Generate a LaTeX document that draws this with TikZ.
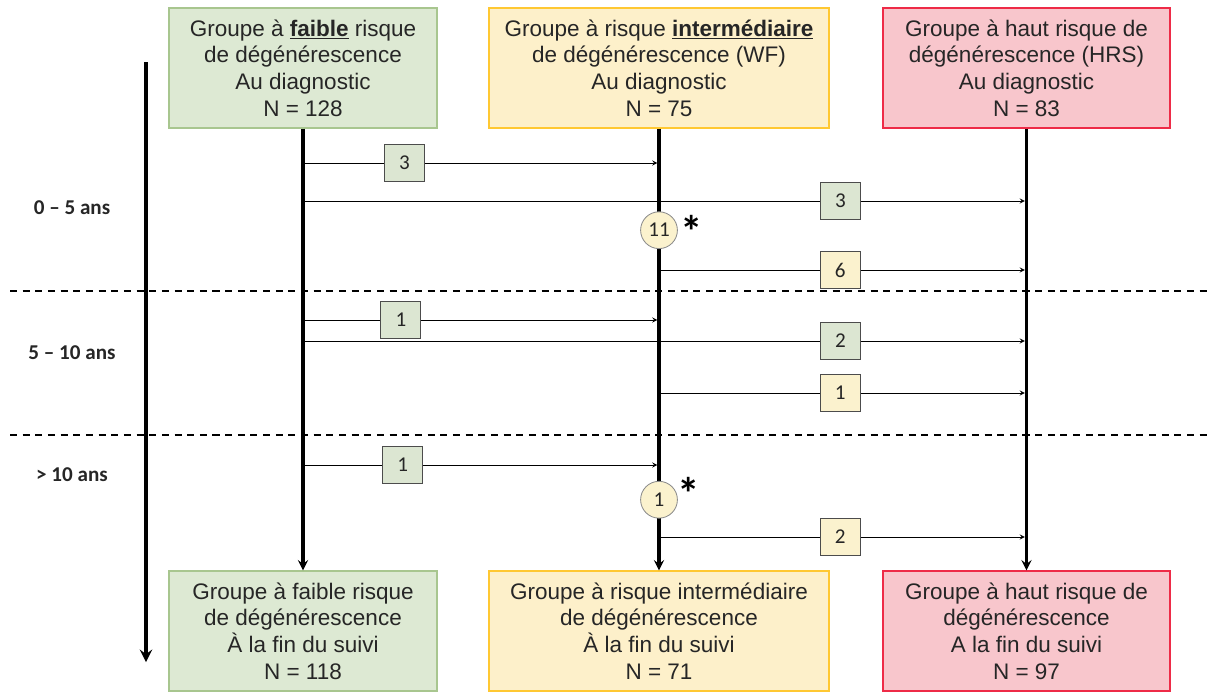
\documentclass[tikz,border=0pt]{standalone}
\usepackage{fontspec}
\setmainfont{Liberation Sans}
\newfontfamily\calibri{Carlito}
\definecolor{lowfill}{HTML}{DDE9D3}
\definecolor{lowline}{HTML}{A8C68F}
\definecolor{midfill}{HTML}{FDF0CA}
\definecolor{midline}{HTML}{FFC832}
\definecolor{highfill}{HTML}{F8C6CC}
\definecolor{highline}{HTML}{EE2B47}
\definecolor{lowcountfill}{HTML}{DCE6D2}
\definecolor{midcountfill}{HTML}{FBF2CE}
\begin{document}
\begin{tikzpicture}[
        x=0.025cm, y=-0.025cm,
        >=stealth,
        every node/.style={text=black!85},
        groupbox/.style={
            draw,
            line width=0.8pt,
            align=center,
            minimum height=3cm,
            inner sep=2pt,
            font=\fontsize{16}{19}\selectfont
        },
        lowbox/.style={groupbox, fill=lowfill, draw=lowline, minimum width=6.7cm},
        midbox/.style={groupbox, fill=midfill, draw=midline, minimum width=8.5cm},
        highbox/.style={groupbox, fill=highfill, draw=highline, minimum width=7.175cm},
        countbox/.style={
            draw=black!70,
            line width=0.6pt,
            minimum width=1cm,
            minimum height=0.92cm,
            inner sep=0pt,
            font=\calibri\fontsize{15}{15}\selectfont
        },
        lowcount/.style={countbox, fill=lowcountfill},
        midcount/.style={countbox, fill=midcountfill},
        switchmark/.style={circle, draw=black!45, line width=0.6pt, fill=midcountfill, minimum size=0.92cm,
            inner sep=0pt, font=\calibri\fontsize{15}{15}\selectfont},
        starmark/.style={inner sep=0pt, text=black, font=\calibri\bfseries\fontsize{32}{32}\selectfont},
        period/.style={font=\calibri\bfseries\fontsize{15}{15}\selectfont},
        vline/.style={->, line width=2.2pt},
        hline/.style={->, line width=0.6pt, shorten >=1.2pt},
        sepline/.style={dash pattern=on 5pt off 4pt, line width=1.3pt}
    ]
        \useasboundingbox (0,0) rectangle (1216,693);

        \node[lowbox] (lowTop) at (303,68) {Groupe à \underline{\textbf{faible}} risque\\de dégénérescence\\Au diagnostic\\N = 128};
        \node[midbox] (midTop) at (659,68) {Groupe à risque \underline{\textbf{intermédiaire}}\\de dégénérescence (WF)\\Au diagnostic\\N = 75};
        \node[highbox] (highTop) at (1026.5,68) {Groupe à haut risque de\\dégénérescence (HRS)\\Au diagnostic\\N = 83};

        \node[lowbox] (lowEnd) at (303,631) {Groupe à faible risque\\de dégénérescence\\À la fin du suivi\\N = 118};
        \node[midbox] (midEnd) at (659,631) {Groupe à risque intermédiaire\\de dégénérescence\\À la fin du suivi\\N = 71};
        \node[highbox] (highEnd) at (1026.5,631) {Groupe à haut risque de\\dégénérescence\\A la fin du suivi\\N = 97};

        \node[period] (p1) at (72,208) {0 – 5 ans};
        \node[period] (p2) at (72,353) {5 – 10 ans};
        \node[period] (p3) at (72,475) {> 10 ans};

        \coordinate (timeTop) at (146,62);
        \coordinate (timeEnd) at (146,662);
        \draw[->, line width=2.8pt] (timeTop) -- (timeEnd);

        \coordinate (sepAw) at (10,291);
        \coordinate (sepAe) at (1212,291);
        \coordinate (sepBw) at (10,435);
        \coordinate (sepBe) at (1212,435);
        \draw[sepline] (sepAw) -- (sepAe);
        \draw[sepline] (sepBw) -- (sepBe);

        \draw[hline] (lowTop.south |- 0,163) -- node[lowcount, pos=0.285] (n1) {3} (midTop.south |- 0,163);
        \draw[hline] (lowTop.south |- 0,201) -- node[lowcount, pos=0.743] (n2) {3} (highTop.south |- 0,201);
        \draw[hline] (midTop.south |- 0,270) -- node[midcount, pos=0.493] (n3) {6} (highTop.south |- 0,270);
        \draw[hline] (lowTop.south |- 0,320) -- node[lowcount, pos=0.275] (n4) {1} (midTop.south |- 0,320);
        \draw[hline] (lowTop.south |- 0,341) -- node[lowcount, pos=0.743] (n5) {2} (highTop.south |- 0,341);
        \draw[hline] (midTop.south |- 0,393) -- node[midcount, pos=0.493] (n6) {1} (highTop.south |- 0,393);
        \draw[hline] (lowTop.south |- 0,465) -- node[lowcount, pos=0.28] (n7) {1} (midTop.south |- 0,465);
        \draw[hline] (midTop.south |- 0,537) -- node[midcount, pos=0.493] (n8) {2} (highTop.south |- 0,537);

        \draw[vline] (lowTop) -- (lowEnd);
        \draw[vline] (midTop) -- node[switchmark, pos=0.23] (sw1) {11} node[switchmark, pos=0.84] (sw2) {1} (midEnd);
        \draw[vline] (highTop) -- (highEnd);

        \node[starmark] (ast1) at (692,231) {*};
        \node[starmark] (ast2) at (689,493) {*};
    \end{tikzpicture}
\end{document}
